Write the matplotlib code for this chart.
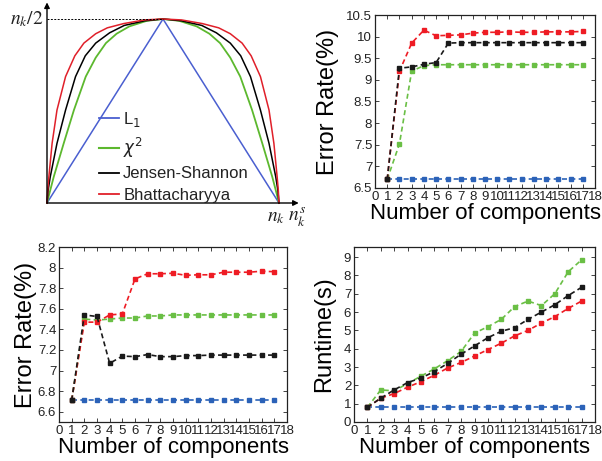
import numpy as np
import matplotlib
matplotlib.use("Agg")
import matplotlib.pyplot as plt
from matplotlib.lines import Line2D

plt.rcParams.update({
    "font.family": ["Liberation Sans", "DejaVu Sans"],
    "text.color": "#222222",
    "axes.edgecolor": "#222222",
    "xtick.color": "#222222",
    "ytick.color": "#222222",
})

# ---- schematic curves (left half, mirrored), height as fraction of n_k/2 ----
bh_p = [0, 0.003, 0.008, 0.022, 0.043, 0.08, 0.12, 0.159, 0.21, 0.26, 0.33, 0.42, 0.5]
bh_h = [0, 0.07, 0.142, 0.324, 0.505, 0.687, 0.80, 0.869, 0.92, 0.952, 0.975, 0.995, 1.0]
js_p = [0, 0.005, 0.014, 0.043, 0.08, 0.123, 0.165, 0.21, 0.27, 0.333, 0.42, 0.5]
js_h = [0, 0.07, 0.142, 0.324, 0.505, 0.687, 0.80, 0.869, 0.925, 0.965, 0.99, 1.0]
chi_p = [0, 0.01, 0.029, 0.072, 0.116, 0.167, 0.21, 0.254, 0.30, 0.355, 0.43, 0.5]
chi_h = [0, 0.05, 0.142, 0.324, 0.505, 0.687, 0.79, 0.869, 0.92, 0.96, 0.99, 1.0]
l1_p = [0, 0.5]
l1_h = [0, 1.0]
peak = 0.5

# ---- experiment data ----
comps = list(range(1, 18))

err1_l1 = [6.7] * 17
err1_chi = [6.7, 7.52, 9.2, 9.33, 9.35, 9.35, 9.35, 9.35, 9.35, 9.35, 9.35, 9.35, 9.35, 9.35, 9.35, 9.35, 9.35]
err1_js = [6.7, 9.27, 9.3, 9.36, 9.4, 9.85, 9.86, 9.86, 9.86, 9.86, 9.86, 9.86, 9.86, 9.86, 9.86, 9.86, 9.86]
err1_bh = [6.7, 9.2, 9.85, 10.15, 10.02, 10.03, 10.04, 10.08, 10.1, 10.1, 10.11, 10.1, 10.1, 10.11, 10.11, 10.11, 10.12]

err2_l1 = [6.71] * 17
err2_chi = [6.71, 7.5, 7.49, 7.5, 7.51, 7.51, 7.53, 7.53, 7.54, 7.54, 7.54, 7.54, 7.54, 7.54, 7.54, 7.54, 7.54]
err2_js = [6.71, 7.54, 7.525, 7.07, 7.14, 7.135, 7.155, 7.135, 7.135, 7.145, 7.145, 7.15, 7.15, 7.15, 7.15, 7.15, 7.15]
err2_bh = [6.71, 7.47, 7.47, 7.54, 7.55, 7.89, 7.94, 7.94, 7.945, 7.925, 7.93, 7.93, 7.955, 7.955, 7.955, 7.965, 7.96]

rt_l1 = [0.8] * 17
rt_chi = [0.8, 1.75, 1.7, 2.1, 2.5, 2.9, 3.35, 3.85, 4.85, 5.2, 5.6, 6.3, 6.6, 6.35, 7.0, 8.2, 8.85]
rt_js = [0.8, 1.3, 1.75, 2.15, 2.4, 2.75, 3.2, 3.7, 4.15, 4.6, 4.95, 5.15, 5.6, 6.0, 6.4, 6.9, 7.35]
rt_bh = [0.8, 1.3, 1.55, 1.9, 2.2, 2.55, 2.95, 3.25, 3.6, 3.95, 4.3, 4.7, 5.0, 5.4, 5.75, 6.2, 6.6]

c_blue, c_green, c_black, c_red = "#2b62b8", "#6abf45", "#1a1a1a", "#ee1c24"

W, H = 602, 461
fig = plt.figure(figsize=(W / 100, H / 100), dpi=100)


def px_axes(left, top, right, bottom):
    return fig.add_axes([left / W, 1 - bottom / H, (right - left) / W, (bottom - top) / H])


# ---- (a) schematic ----
ax0 = px_axes(0, 0, 300, 230)
ax0.set_xlim(-47 / 232, 253 / 232)
ax0.set_ylim(-27 / 368, 203 / 368)
ax0.axis("off")


def mirror(p, h):
    x = list(p) + [1 - v for v in reversed(p)]
    y = [peak * v for v in h] + [peak * v for v in reversed(h)]
    return x, y


ax0.plot(*mirror(l1_p, l1_h), color="#4a5fd0", lw=1.1)
ax0.plot(*mirror(chi_p, chi_h), color="#5cb82e", lw=1.3)
ax0.plot(*mirror(js_p, js_h), color="black", lw=1.1)
ax0.plot(*mirror(bh_p, bh_h), color="#e0202a", lw=1.1)
ax0.plot([0, 0.5], [peak, peak], color="black", lw=0.7, ls=(0, (2, 1.5)))

arrow = dict(arrowstyle="-|>", color="black", lw=1.0, mutation_scale=8, shrinkA=0, shrinkB=0)
ax0.annotate("", xy=(1.085, 0), xytext=(0, 0), arrowprops=arrow)
ax0.annotate("", xy=(0, 0.545), xytext=(0, 0), arrowprops=arrow)

ax0.text(-0.015, peak, r"$n_k/2$", ha="right", va="center", fontsize=14, math_fontfamily="stix")
ax0.text(0.985, -0.04, r"$n_k$", ha="center", va="center", fontsize=14, math_fontfamily="stix")
ax0.text(1.04, -0.04, r"$n_k^s$", ha="left", va="center", fontsize=14, math_fontfamily="stix")

handles = [Line2D([], [], color="#4a5fd0", lw=1.3), Line2D([], [], color="#5cb82e", lw=1.5),
           Line2D([], [], color="black", lw=1.3), Line2D([], [], color="#e0202a", lw=1.3)]
ax0.legend(handles, [r"L$_1$", r"$\chi^2$", "Jensen-Shannon", "Bhattacharyya"],
           loc="upper left", bbox_to_anchor=(99 / W, 1 - 110 / H), bbox_transform=fig.transFigure,
           frameon=False, fontsize=12, handlelength=1.2, handletextpad=0.25,
           labelspacing=0.4, borderpad=0, borderaxespad=0)


# ---- result panels ----
def panel(ax, l1, chi, js, bh, ylim, yticks, ylabel, ypad):
    for vals, col in [(l1, c_blue), (chi, c_green), (bh, c_red), (js, c_black)]:
        ax.plot(comps, vals, color=col, lw=1.2, ls=(0, (3, 2)), marker="s", ms=3.5, mfc=col, mec=col)
    ax.set_xlim(0, 18)
    ax.set_xticks(range(19))
    ax.set_ylim(*ylim)
    ax.set_yticks(yticks)
    ax.set_yticklabels([f"{v:g}" for v in yticks])
    ax.tick_params(direction="in", top=True, right=True, length=3, width=0.6, labelsize=9.5, pad=2)
    ax.set_xlabel("Number of components", fontsize=16, labelpad=0)
    ax.set_ylabel(ylabel, fontsize=17, labelpad=ypad)
    for s in ax.spines.values():
        s.set_linewidth(0.9)


ax1 = px_axes(375, 15, 595, 188)
panel(ax1, err1_l1, err1_chi, err1_js, err1_bh, (6.5, 10.5),
      [6.5, 7, 7.5, 8, 8.5, 9, 9.5, 10, 10.5], "Error Rate(%)", 5)

ax2 = px_axes(59, 247, 287, 422)
panel(ax2, err2_l1, err2_chi, err2_js, err2_bh, (6.5, 8.2),
      [6.6, 6.8, 7, 7.2, 7.4, 7.6, 7.8, 8, 8.2], "Error Rate(%)", 0.5)

ax3 = px_axes(354, 247, 595, 422)
panel(ax3, rt_l1, rt_chi, rt_js, rt_bh, (0, 9.55), list(range(10)), "Runtime(s)", 6)

fig.savefig("out.png", dpi=100)
